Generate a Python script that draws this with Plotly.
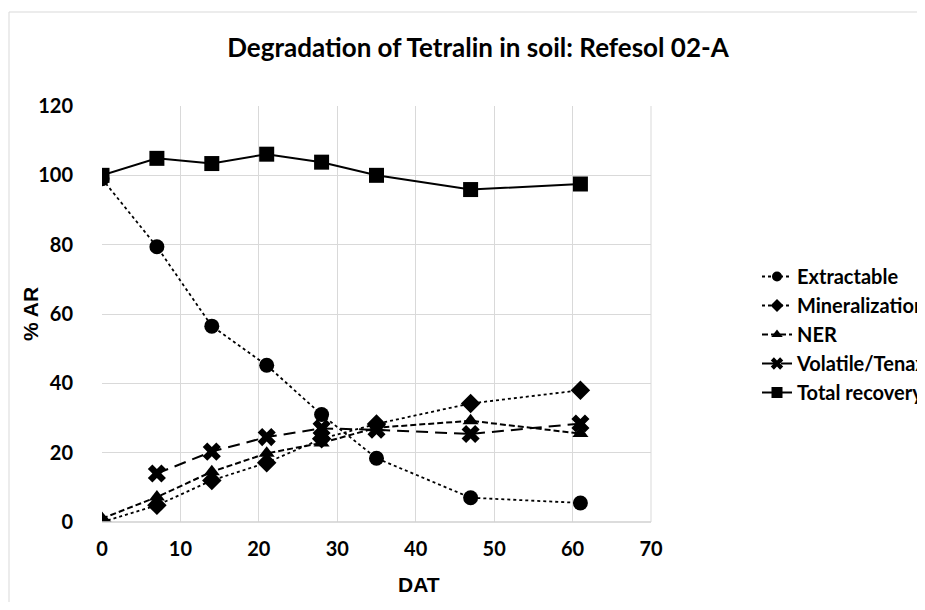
import plotly.graph_objects as go

days = [0, 7, 14, 21, 28, 35, 47, 61]
extractable = [99.0, 79.4, 56.5, 45.2, 31.0, 18.4, 7.0, 5.5]
mineralization = [0.0, 4.8, 12.0, 17.1, 24.0, 28.3, 34.2, 38.0]
ner = [1.0, 7.2, 14.5, 19.8, 22.8, 27.2, 29.2, 25.5]
volatile_days = [7, 14, 21, 28, 35, 47, 61]
volatile = [14.0, 20.3, 24.5, 27.0, 26.6, 25.4, 28.4]
total = [100.0, 104.9, 103.4, 106.1, 103.8, 100.0, 95.9, 97.5]

x_ticks = [0, 10, 20, 30, 40, 50, 60, 70]
y_ticks = [0, 20, 40, 60, 80, 100, 120]

FONT = "Lato"
AXFONT = "Liberation Sans"

# plot area in window pixels (page body has an 8px margin)
PL, PR, PT, PB = 102, 651, 106, 522
OFF = 8
W, H = 917, 594
PW, PH = PR - PL, PB - PT


def fx(px):
    return (px - PL) / PW


def fy(py):
    return (PB - py) / PH


series = [
    ("Extractable", days, extractable, dict(color="black", width=1.8, dash="dot"), "circle", 15, 10),
    ("Mineralization", days, mineralization, dict(color="black", width=1.8, dash="dot"), "diamond", 15, 10),
    ("NER", days, ner, dict(color="black", width=2, dash="6px,3px"), "triangle-up", 14, 10),
    ("Volatile/Tenax", volatile_days, volatile, dict(color="black", width=2, dash="12px,7px"), "x", 16, 11),
    ("Total recovery", days, total, dict(color="black", width=2), "square", 15, 11),
]

fig = go.Figure()
for name, xs, ys, line, sym, size, lsize in series:
    fig.add_trace(go.Scatter(x=xs, y=ys, name=name, mode="lines+markers", line=line,
                             marker=dict(symbol=sym, size=size, color="black"),
                             showlegend=False, legendgroup=name))
for name, xs, ys, line, sym, size, lsize in series:
    fig.add_trace(go.Scatter(x=[None], y=[None], name=f"<b>{name}</b>", mode="lines+markers", line=line,
                             marker=dict(symbol=sym, size=lsize, color="black"),
                             showlegend=True, legendgroup=name))

fig.update_layout(
    width=W, height=H,
    paper_bgcolor="white", plot_bgcolor="white",
    margin=dict(l=PL - OFF, r=W - (PR - OFF), t=PT - OFF, b=H - (PB - OFF), autoexpand=False),
    font=dict(family=FONT, color="black", size=20),
    title=dict(text="<b>Degradation of Tetralin in soil: Refesol 02-A</b>",
               x=(478 - OFF) / W, xanchor="center", y=1 - (48 - OFF) / H, yanchor="middle",
               font=dict(size=26, family=FONT, color="black")),
    xaxis=dict(range=[0, 70], tickvals=x_ticks, ticktext=[f"<b>{v}</b>" for v in x_ticks],
               showgrid=True, gridcolor="#d9d9d9", gridwidth=1,
               zeroline=False, showline=False, ticks="", ticklabelstandoff=13,
               tickfont=dict(size=20, family=FONT)),
    yaxis=dict(range=[0, 120], tickvals=y_ticks, ticktext=[f"<b>{v}</b>" for v in y_ticks],
               showgrid=True, gridcolor="#d9d9d9", gridwidth=1,
               zeroline=False, showline=False, ticks="", ticklabelstandoff=28,
               tickfont=dict(size=20, family=FONT)),
    legend=dict(x=fx(757), xanchor="left", y=fy(257), yanchor="top",
                font=dict(size=20, family=FONT), bgcolor="rgba(0,0,0,0)",
                tracegroupgap=0),
    showlegend=True,
)

# axis titles
fig.add_annotation(text="<b>DAT</b>", xref="paper", yref="paper", x=fx(419), y=fy(584),
                   showarrow=False, font=dict(size=21, family=AXFONT, color="black"),
                   xanchor="center", yanchor="middle")
fig.add_annotation(text="<b>% AR</b>", xref="paper", yref="paper", x=fx(30), y=fy(314),
                   showarrow=False, textangle=-90, font=dict(size=21, family=AXFONT, color="black"),
                   xanchor="center", yanchor="middle")

# plot area bottom and right edges in gridline style
fig.add_shape(type="line", xref="paper", yref="paper", x0=0, x1=1, y0=0, y1=0,
              line=dict(color="#d0d0d0", width=1.5))
fig.add_shape(type="line", xref="paper", yref="paper", x0=1, x1=1, y0=0, y1=1,
              line=dict(color="#d9d9d9", width=1))
# chart frame (left and top edges visible)
fig.add_shape(type="line", xref="paper", yref="paper",
              x0=fx(9), x1=fx(9), y0=fy(700), y1=fy(12),
              line=dict(color="#d9d9d9", width=1))
fig.add_shape(type="line", xref="paper", yref="paper",
              x0=fx(9), x1=fx(1000), y0=fy(12), y1=fy(12),
              line=dict(color="#d9d9d9", width=1))

fig.write_html("out.html")
